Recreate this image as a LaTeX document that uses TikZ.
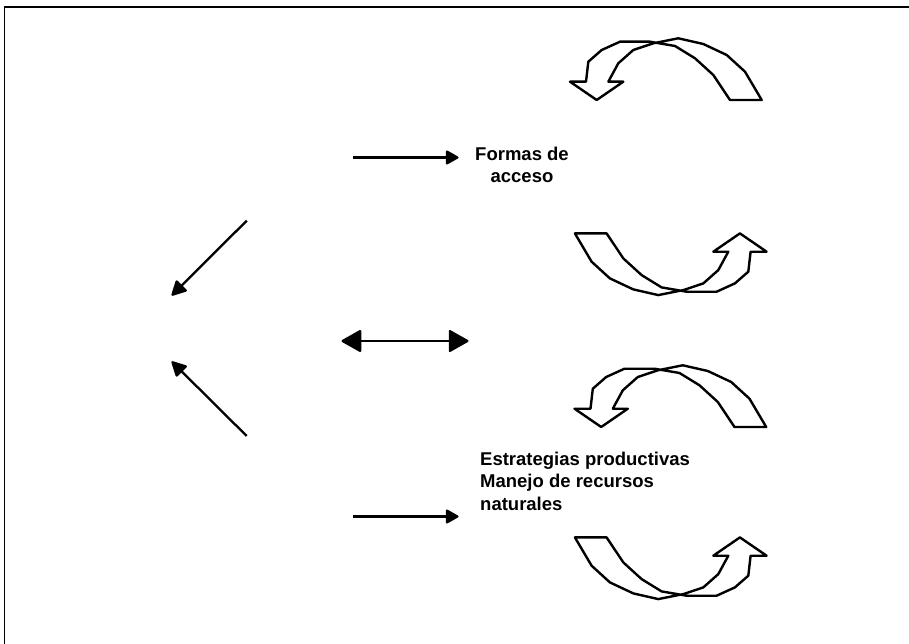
\documentclass[tikz,border=0pt]{standalone}
\usepackage{fontspec}
\setmainfont{Liberation Sans}
\usetikzlibrary{arrows.meta}
\tikzset{
  lbl/.style={inner sep=0pt, font=\fontsize{18.5}{22.5}\selectfont\bfseries},
  conn/.style={line width=2.3pt, -{Triangle[length=14pt,width=15pt,round]}},
  dconn/.style={line width=2.3pt, {Triangle[length=21pt,width=23pt,round]}-{Triangle[length=21pt,width=23pt,round]}},
  diag/.style={line width=2.3pt, -{Triangle[length=16pt,width=16pt,round]}},
  curv/.style={line width=2.4pt, line join=round, fill=white},
  frame/.style={line width=1.6pt}
}
\newcommand\curvedarrowshape{%
  \draw[curv] (761.7,100) -- (745,71.7) -- (726.7,55) -- (703.3,44) -- (678.3,38.3)
    -- (653.3,43.3) -- (633.3,50) -- (618.3,63.3) -- (608.3,81.7) -- (623.3,81.7)
    -- (596.7,100) -- (570,81.7) -- (586,81.7) -- (588.3,61.7) -- (601.7,50)
    -- (620,41.7) -- (650,41.7) -- (675,46) -- (695,58.3) -- (713.3,75)
    -- (730,100) -- cycle;}
\begin{document}
\begin{tikzpicture}[x=1pt,y=-1pt]
\useasboundingbox (0,0) rectangle (909,644);
\draw[frame] (4.5,650) -- (4.5,7.3) -- (915,7.3);

% curved arrows
\begin{scope}\curvedarrowshape\end{scope}
\begin{scope}[rotate around={180:(668.3,166.7)}]\curvedarrowshape\end{scope}
\begin{scope}[shift={(4.5,327)}]\curvedarrowshape\end{scope}
\begin{scope}[shift={(0,304)},rotate around={180:(668.3,166.7)}]\curvedarrowshape\end{scope}

% labels
\node[lbl, align=center, anchor=north] (formas) at (522,146.5) {Formas de\\acceso};
\node[lbl, align=left, anchor=north west] (estr) at (480,451.5) {Estrategias productivas\\Manejo de recursos\\naturales};

% connector end points
\coordinate (a1s) at (353,157.5);
\coordinate (a1e) at (458.5,157.5);
\coordinate (bs) at (341.5,341);
\coordinate (be) at (468.5,341);
\coordinate (d1s) at (246.7,220.7);
\coordinate (d1e) at (171.7,295.5);
\coordinate (d2s) at (246.7,436);
\coordinate (d2e) at (171.7,361.5);
\coordinate (a2s) at (353,516.5);
\coordinate (a2e) at (458.5,516.5);

\draw[conn] (a1s) -- (a1e);
\draw[dconn] (bs) -- (be);
\draw[diag] (d1s) -- (d1e);
\draw[diag] (d2s) -- (d2e);
\draw[conn] (a2s) -- (a2e);
\end{tikzpicture}
\end{document}
